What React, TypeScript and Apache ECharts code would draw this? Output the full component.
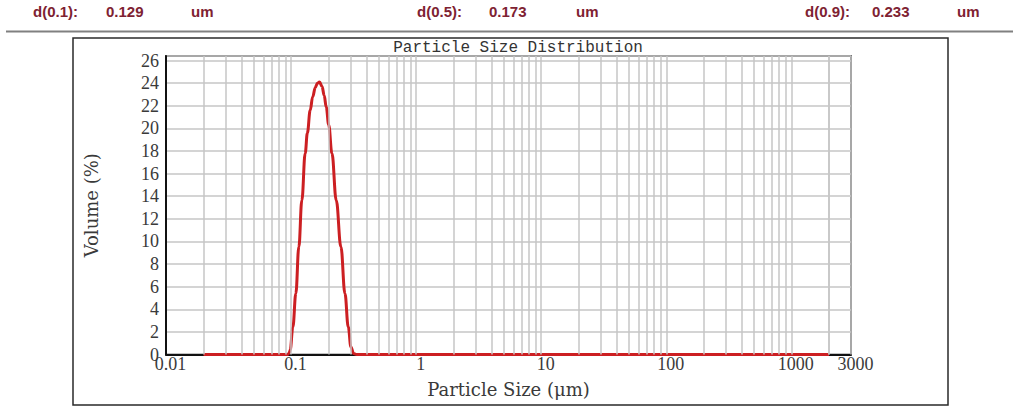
import React, { useEffect, useRef } from "react";
import * as echarts from "echarts";

// ---- data ----
const sizes = [
  0.02, 0.05, 0.08, 0.094, 0.0965, 0.0984, 0.1034, 0.1092, 0.1154, 0.122,
  0.1297, 0.135, 0.1422, 0.149, 0.156, 0.1625, 0.1688, 0.177, 0.184, 0.191,
  0.2, 0.2122, 0.2297, 0.2504, 0.2696, 0.2866, 0.301, 0.316, 0.335, 0.5,
  1, 10, 100, 1000, 2000,
];
const volumes = [
  0, 0, 0, 0, 0.12, 0.4, 2.44, 5.4, 9.52, 13.65,
  17.8, 19.6, 21.6, 22.8, 23.6, 24.0, 24.1, 23.7, 22.9, 21.9,
  20.3, 17.8, 13.65, 9.52, 5.4, 2.44, 0.67, 0.09, 0, 0,
  0, 0, 0, 0, 0,
];
const xTickValues = [0.01, 0.1, 1, 10, 100, 1000, 3000];
const xTickLabels = ["0.01", "0.1", "1", "10", "100", "1000", "3000"];
const gridDecades = [0.01, 0.1, 1, 10, 100, 1000];
const gridMultipliers = [1, 2, 3, 4, 5, 6, 7, 8, 9];
const yMin = 0;
const yMax = 26.4;
const yStep = 2;
const pctLabels = ["d(0.1):", "d(0.5):", "d(0.9):"];
const pctValues = ["0.129", "0.173", "0.233"];
const pctUnit = "um";
const chartTitle = "Particle Size Distribution";
const xName = "Particle Size (\u03bcm)";
const yName = "Volume (%)";

export default function App() {
  const ref = useRef<HTMLDivElement>(null);
  useEffect(() => {
    if (!ref.current) return;
    const chart = echarts.init(ref.current, null, { renderer: "svg" });

    const gridX: number[] = [];
    gridDecades.forEach((d) =>
      gridMultipliers.forEach((m) => {
        const v = +(d * m).toPrecision(6);
        if (v > 0.01) gridX.push(v);
      })
    );
    gridX.push(2000);

    const headerColor = "#7e2232";
    const headerFont = {
      fontFamily: "Liberation Sans",
      fontWeight: "bold" as const,
      fontSize: 15,
      fill: headerColor,
    };
    const labelX = [33, 417, 805];
    const valueX = [106, 489, 872];
    const unitX = [191, 576, 957];
    const header: any[] = [];
    pctLabels.forEach((lab, i) => {
      header.push({ type: "text", x: labelX[i], y: 11, style: { ...headerFont, text: lab, textVerticalAlign: "middle" } });
      header.push({ type: "text", x: valueX[i], y: 11, style: { ...headerFont, text: pctValues[i], textVerticalAlign: "middle" } });
      header.push({ type: "text", x: unitX[i], y: 11, style: { ...headerFont, text: pctUnit, textVerticalAlign: "middle" } });
    });

    const fmtX = (v: number) => {
      for (let i = 0; i < xTickValues.length; i++) {
        if (Math.abs(Math.log10(v) - Math.log10(xTickValues[i])) < 0.01) return xTickLabels[i];
      }
      return "";
    };

    chart.setOption({
      animation: false,
      backgroundColor: "#ffffff",
      title: {
        text: chartTitle,
        left: 518,
        top: 40,
        padding: 0,
        textAlign: "center",
        textStyle: { fontFamily: "Liberation Mono", fontSize: 16, fontWeight: "normal", color: "#333333" },
      },
      graphic: [
        ...header,
        { type: "line", shape: { x1: 6, y1: 31.5, x2: 1013, y2: 31.5 }, style: { stroke: "#808080", lineWidth: 2 } },
        { type: "rect", shape: { x: 73, y: 38, width: 875, height: 367 }, style: { fill: "none", stroke: "#2a2a2a", lineWidth: 1.5 } },
      ],
      grid: {
        left: 166,
        right: 173,
        top: 56,
        bottom: 53.5,
        show: true,
        borderColor: "#111111",
        borderWidth: 1.5,
        backgroundColor: "transparent",
      },
      xAxis: {
        type: "log",
        logBase: 10,
        min: 0.01,
        max: 3000,
        name: xName,
        nameLocation: "middle",
        nameGap: 26,
        nameTextStyle: { fontFamily: "DejaVu Serif", fontSize: 18, color: "#3a3a3a" },
        axisLine: { show: true, lineStyle: { color: "#111111", width: 2 } },
        axisTick: { show: false },
        splitLine: { show: false },
        axisLabel: {
          fontFamily: "Liberation Serif",
          fontSize: 18,
          color: "#3a3a3a",
          margin: 0,
          padding: [0, 0, 0, 9],
          showMinLabel: true,
          showMaxLabel: true,
          hideOverlap: false,
          formatter: fmtX,
        },
      },
      yAxis: {
        type: "value",
        min: yMin,
        max: yMax,
        interval: yStep,
        name: yName,
        nameLocation: "middle",
        nameGap: 66,
        nameTextStyle: { fontFamily: "DejaVu Serif", fontSize: 18, color: "#3a3a3a" },
        axisLine: { show: true, lineStyle: { color: "#111111", width: 2 } },
        axisTick: { show: false },
        splitLine: { show: true, lineStyle: { color: "#c6c6c6", width: 1.5 } },
        axisLabel: {
          fontFamily: "Liberation Serif",
          fontSize: 18,
          color: "#3a3a3a",
          margin: 7,
          showMaxLabel: false,
        },
      },
      series: [
        {
          type: "line",
          data: [],
          z: 1,
          silent: true,
          markLine: {
            silent: true,
            symbol: "none",
            label: { show: false },
            lineStyle: { color: "#c6c6c6", width: 1.5, type: "solid" },
            data: gridX.map((v) => ({ xAxis: v })),
          },
        },
        {
          type: "line",
          z: 3,
          data: sizes.map((s, i) => [s, volumes[i]]),
          showSymbol: false,
          symbol: "none",
          smooth: 0.4,
          smoothMonotone: "x",
          lineStyle: { color: "#cc1f22", width: 3 },
        },
      ],
    });
    return () => chart.dispose();
  }, []);
  return (
    <div
      ref={ref}
      style={{ position: "fixed", left: 0, top: 0, width: 1024, height: 408, background: "#fff" }}
    />
  );
}
